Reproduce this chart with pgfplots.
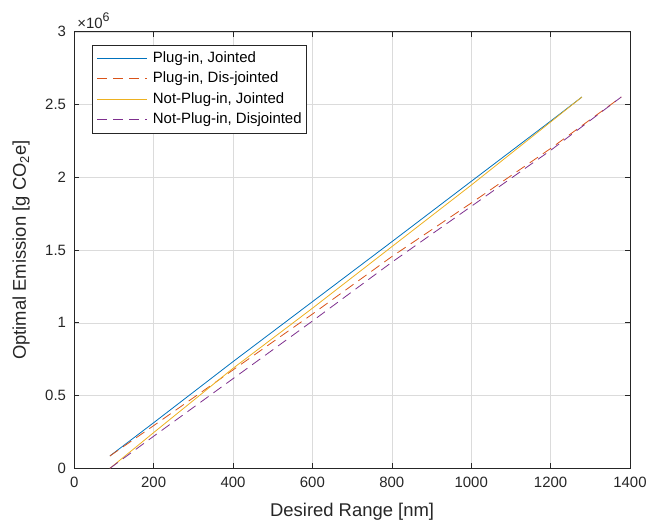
\documentclass[border=0pt]{standalone}
\usepackage{fontspec}
\setmainfont{Liberation Sans}
\usepackage{pgfplots}
\pgfplotsset{compat=1.18}
\definecolor{mblue}{rgb}{0,0.447,0.741}
\definecolor{morange}{rgb}{0.850,0.325,0.098}
\definecolor{myellow}{rgb}{0.929,0.694,0.125}
\definecolor{mpurple}{rgb}{0.494,0.184,0.556}
\definecolor{axgray}{rgb}{0.15,0.15,0.15}
\begin{document}
\begin{tikzpicture}
\begin{axis}[name=ax,
  width=555.8bp, height=436.5bp, scale only axis,
  xmin=0, xmax=1400, ymin=0, ymax=3,
  xtick={0,200,400,600,800,1000,1200,1400},
  ytick={0,0.5,1,1.5,2,2.5,3},
  scaled ticks=false,
  /pgf/number format/1000 sep={},
  /pgf/number format/assume math mode=true,
  tick align=inside,
  major tick length=5bp,
  tick style={color=axgray, line width=0.6bp},
  axis line style={color=axgray, line width=0.6bp},
  grid=major,
  major grid style={color=black!14, line width=0.5bp},
  ticklabel style={font=\fontsize{15}{15}\selectfont, text=axgray},
  xticklabel style={inner sep=0bp, yshift=-8.5bp},
  yticklabel style={inner sep=0bp, xshift=-8bp},
  xlabel={Desired Range [nm]},
  xlabel style={at={([yshift=-35bp]rel axis cs:0.5,0)}, anchor=north, inner sep=0bp, font=\fontsize{18.5}{18.5}\selectfont, text=axgray},
  ylabel={Optimal Emission [g CO\textsubscript{2}e]},
  ylabel style={at={([xshift=-53bp]rel axis cs:0,0.5)}, anchor=center, inner sep=0bp, font=\fontsize{18.5}{18.5}\selectfont, text=axgray},
  legend style={at={(rel axis cs:0,1)}, anchor=north west, xshift=17.5bp, yshift=-13.2bp,
    draw=axgray, line width=0.5bp, fill=white, inner xsep=5bp, inner ysep=6.25bp,
    row sep=6.5bp, column sep=5bp, font=\fontsize{15}{15}\selectfont,
    nodes={inner sep=0bp, text height=11bp, text depth=3bp}},
  legend cell align=left,
  legend image code/.code={\draw[#1, line width=1bp] (0bp,0bp) -- (50bp,0bp);},
]
\addplot[draw=mblue, line width=0.8bp] coordinates {
  (90,0.085) (200,0.313) (400,0.733) (600,1.145) (800,1.557) (1000,1.972) (1200,2.386) (1279,2.552)};
\addlegendentry{Plug-in, Jointed}
\addplot[draw=morange, line width=0.8bp, dash pattern=on 10bp off 6bp] coordinates {
  (90,0.085) (200,0.293) (400,0.676) (600,1.060) (800,1.455) (1000,1.823) (1200,2.198) (1378,2.552)};
\addlegendentry{Plug-in, Dis-jointed}
\addplot[draw=myellow, line width=0.8bp] coordinates {
  (90,0) (200,0.245) (400,0.687) (600,1.100) (800,1.523) (1000,1.946) (1200,2.380) (1279,2.552)};
\addlegendentry{Not-Plug-in, Jointed}
\addplot[draw=mpurple, line width=0.8bp, dash pattern=on 10bp off 6bp] coordinates {
  (90,0) (200,0.220) (400,0.616) (600,1.012) (800,1.416) (1000,1.800) (1200,2.185) (1378,2.552)};
\addlegendentry{Not-Plug-in, Disjointed}
\end{axis}
\node[anchor=base west, inner sep=0bp, xshift=3bp, yshift=3.5bp, text=axgray] at (ax.north west) {\fontsize{15}{17}\selectfont ×10\raisebox{7bp}{\fontsize{12.5}{14}\selectfont 6}};
\pgfresetboundingbox
\path ([shift={(-74.2bp,-52.7bp)}]ax.south west) rectangle ([shift={(16bp,31.8bp)}]ax.north east);
\end{tikzpicture}
\end{document}
